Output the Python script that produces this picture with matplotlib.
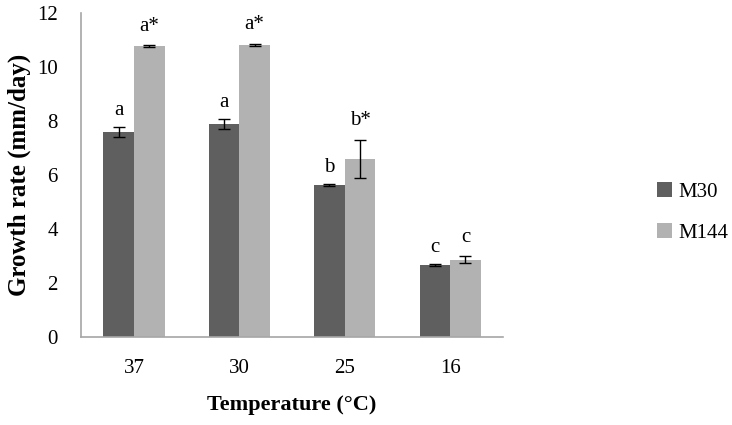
import numpy as np
import matplotlib.pyplot as plt

plt.rcParams['font.family'] = ['Liberation Serif', 'DejaVu Serif']

# Data
temps = ['37', '30', '25', '16']
m30 = [7.6, 7.9, 5.64, 2.68]
m30_err = [0.2, 0.18, 0.03, 0.03]
m144 = [10.78, 10.82, 6.6, 2.86]
m144_err = [0.03, 0.05, 0.7, 0.13]
m30_letters = ['a', 'a', 'b', 'c']
m144_letters = ['a*', 'a*', 'b*', 'c']

fig = plt.figure(figsize=(7.32, 4.25), dpi=100)
ax = fig.add_axes([0.111, 0.207, 0.576, 0.762])

x = np.arange(len(temps))
w = 0.29
ek = dict(ecolor='black', capsize=4, elinewidth=1, capthick=1)
ax.bar(x - w / 2, m30, w, yerr=m30_err, color='#5f5f5f', label='M30', error_kw=ek)
ax.bar(x + w / 2, m144, w, yerr=m144_err, color='#b2b2b2', label='M144', error_kw=ek)

for i in range(len(temps)):
    ax.annotate(m30_letters[i], (x[i] - w / 2, m30[i] + m30_err[i]), xytext=(0, 5),
                textcoords='offset points', ha='center', va='bottom', fontsize=15)
    ax.annotate(m144_letters[i], (x[i] + w / 2, m144[i] + m144_err[i]), xytext=(0, 7),
                textcoords='offset points', ha='center', va='bottom', fontsize=15)

ax.set_xlim(-0.5, 3.5)
ax.set_ylim(0, 12)
ax.set_yticks(range(0, 13, 2))
ax.set_xticks(x)
ax.set_xticklabels(temps)
ax.tick_params(axis='both', length=0, labelsize=15)
ax.tick_params(axis='x', pad=16)
ax.tick_params(axis='y', pad=17)

for s in ['top', 'right']:
    ax.spines[s].set_visible(False)
for s in ['left', 'bottom']:
    ax.spines[s].set_color('#a6a6a6')
    ax.spines[s].set_linewidth(1.2)

ax.set_xlabel('Temperature (°C)', fontsize=16, fontweight='bold', labelpad=12)
ax.set_ylabel('Growth rate (mm/day)', fontsize=18, fontweight='bold', labelpad=4)

fig.legend(loc='center left', bbox_to_anchor=(0.898, 0.50), frameon=False, fontsize=15,
           handlelength=0.7, handleheight=0.7, handletextpad=0.3, labelspacing=1.0,
           borderaxespad=0, borderpad=0)

fig.savefig('out.png', dpi=100)
